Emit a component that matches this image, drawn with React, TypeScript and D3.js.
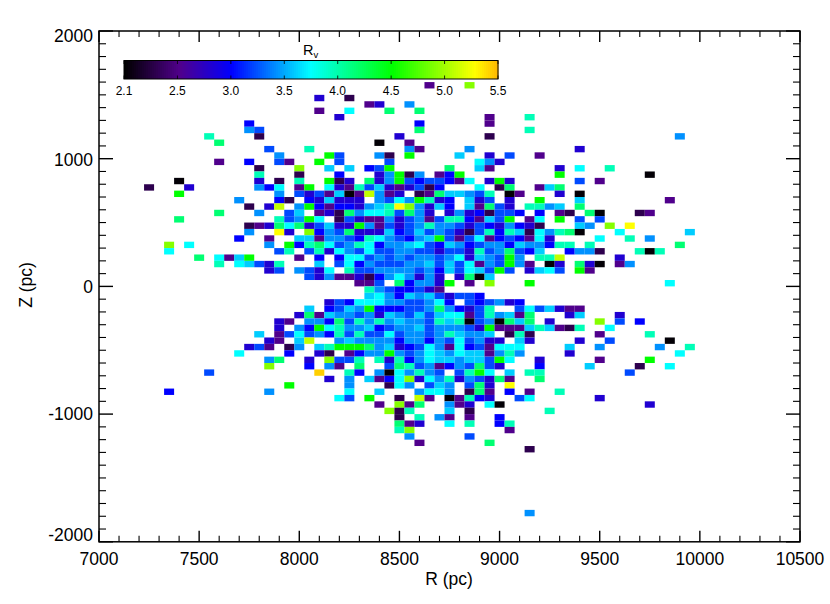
import React from "react";
import * as d3 from "d3";

// Rv level of each letter code used in the rows below
const rvCodes: Record<string, number> = {
  k: 2.12, d: 2.38, p: 2.6, v: 2.88, b: 3.07, B: 3.28, a: 3.48, s: 3.65, c: 3.79,
  t: 4.0, m: 4.2, g: 4.53, l: 4.92, h: 5.1, y: 5.28, o: 5.42,
};

// Z top edge (in 50 pc steps) -> runs of "R index (50 pc steps from 7000) + Rv codes"
const rowsNorth: [number, string][] = [
  [32, "33p 37l"],
  [30, "22v 25d"],
  [29, "27pv 31a"],
  [28, "22p 25c 29m 32m"],
  [27, "24v 39p 43t"],
  [26, "15b 32b 39p"],
  [25, "15aB 32m 43t"],
  [24, "11t 16d 30v 39d 58a"],
  [23, "12m 28k 31p"],
  [22, "17B 21t 31ap 37a 48v"],
  [21, "18a 23gB 28ad 31g 36s 39v 41B 44p"],
  [20, "12p 15b 18Bp 22g 24B 29B 38cav"],
  [19, "16d 20l 23s 25s 27bB 29g 35m 38sp 46v 48c 51t"],
  [18, "16t 20d 24b 28vagda 34pbg 46g 55k"],
  [17, "8k 16v 18d 20t 23gdv 27mvagBbBBbpc 39vgv 48B 50p"],
  [16, "5d 9v 16abc 20pg 23cvptBsvpvBdb 38c 40dm 44psm"],
  [15, "8g 18a 20BvBpskphapv 32dpmssaBt 41kp 46v 48k"],
  [14, "14a 18bd 21bvsvvv 28aBcagtvb 37svB 41v 44g 48s 57p"],
  [13, "15d 17vh 20agbpbbvastylavsb 37spmBv 43ttas 48m"],
  [12, "12m 16a 19Bs 22pvdmacctBmav 35vavbdBBb 44b 46pd 49mk 54dp"],
  [11, "8m 18tBagc 24dBvppavBapBttbpsBg 43pc 46g 48B 50B"],
  [10, "15dpvmcmvBsvvgapBvBataaBvBbvabvd 48sa 51l 53y"],
  [9, "15a 18yv 21lbaBmvvvsbBsBaBvdBtbtsdcatmk 52c 59s"],
  [8, "14b 17p 20sspaaBbtcaBbasgBpBcpbBbpcv 50c 53t 55a"],
  [7, "7l 9c 17a 19gbtmcBatcbaascBbsabBaabsaabtt 49t 58m"],
  [6, "7c 18Bt 21BtvcaBcBBaaBBvBBvtBamBbs 47baad 54tkt"],
  [5, "10m 12cpsg 20p 22b 24bccBaBaBaaBacvsaBga 44tth 52v"],
  [4, "12t 14csBvt 22s 24BcbaBBBaasBsBcpaBgap 45kv 48mvk 52pa"],
  [3, "17vB 20aBvc 25tBBaaaaBabsBcsBgB 43vscB 48gp"],
  [2, "21Bvappvdbacavav 36vmks"],
  [1, "26ppB 30mbaavg 37p 39l 43g 57c"],
];

const rowsSouth: [number, string][] = [
  [0, "27taBbbBvp"],
  [-1, "27scabsasBvBBb"],
  [-2, "23vBbcccaaBBacb 37BbBavb"],
  [-3, "21s 23bBsagbbbBBamabvBt 42BcBsvpp"],
  [-4, "20vmpsaaBavsaBsBsccpBtaspm 47vs 52v"],
  [-5, "18vp 21aabmBtatasaaBtstkBakmsm 45v 50l 52B 54b"],
  [-6, "18v 20abgctaasbBaasBaaaBvgpppstspdt 51c"],
  [-7, "16s 18pBcBabtBtBBcBaaBatsaas 41dtd 50p 55t"],
  [-8, "17vp 20sh 24asaaaabaabaBcBavv 42sv 48v 51B 57k"],
  [-9, "15vBp 19da 22stgggmasvbBcapcbBpccc 47s 50a 56a 59t"],
  [-10, "14c 19b 22vd 25pbaagaBacsacsspata 47v 58c"],
  [-11, "17am 21v 23lBBt 28tvtbacssassBgc 44v 50p 55g"],
  [-12, "17l 21b 23ap 26m 29BmtBapbaBmBv 44b 49s 54d 57c"],
  [-13, "11B 22o 25tb 28akcataB 36Btgc 41s 43tt 53B"],
  [-14, "23v 25a 27spbclvcatvaBvmp 44m"],
  [-15, "19g 25a 29dca 33Bsa 37Bmv 41y"],
  [-16, "7b 17a 25c 28s 32acca 37dmp 41b 43p 46t"],
  [-17, "24cB 27g 30d 32hp 35kptbv 42Bc 50v"],
  [-18, "28p 30lpm 35apv 39ck 55v"],
  [-19, "29ldt 35s 37d 45t"],
  [-20, "30d 32t 34ap 37p 40b"],
  [-21, "30mpv 35c 37t 40bt"],
  [-22, "30tl 41p"],
  [-23, "31a 37B"],
  [-24, "32p 39m"],
  [-25, "43d"],
  [-35, "43a"],
];

const xMajorTicks = [7000, 7500, 8000, 8500, 9000, 9500, 10000, 10500];
const yMajorTicks = [2000, 1000, 0, -1000, -2000];
const barLabels = ["2.1", "2.5", "3.0", "3.5", "4.0", "4.5", "5.0", "5.5"];
const rvStops = [2.1, 2.6, 3.07, 3.79, 4.53, 5.28, 5.5];
const rvColors = ["#000000", "#50008c", "#0000ff", "#00ffff", "#00ff00", "#ffff00", "#ffb400"];

const BIN = 50;
const x = d3.scaleLinear().domain([7000, 10500]).range([99, 800]);
const y = d3.scaleLinear().domain([-2000, 2000]).range([541.8, 31]);
const yLabel = d3.scaleLinear().domain([-2000, -1000, 0, 1000, 2000]).range([541, 419.5, 292.5, 166, 41.5]);
const color = d3.scaleLinear<string>().domain(rvStops).range(rvColors).clamp(true);
const bar = d3.scaleLinear().domain([2.1, 5.5]).range([124, 498]);

type Cell = { r: number; z: number; rv: number };
const cells: Cell[] = [...rowsNorth, ...rowsSouth].flatMap(([m, s]) =>
  s.split(" ").flatMap((tok) => {
    const match = tok.match(/^(-?\d+)([a-zA-Z]+)$/);
    if (!match) return [];
    const n0 = +match[1];
    return match[2].split("").map((c, i) => ({ r: 7000 + (n0 + i) * BIN, z: m * BIN, rv: rvCodes[c] }));
  })
);

const font = "'Liberation Sans', Arial, sans-serif";

export default function App() {
  const xMinor = d3.range(7000, 10501, 100);
  const yMinor = d3.range(-2000, 2001, 100);
  const barSteps = d3.range(2.1, 5.5, 3.4 / 187);
  const barTicks = barLabels.map((_, i) => 2.1 + (i * 3.4) / 7);
  const [x0, x1] = x.range();
  const [y0, y1] = y.range();
  return (
    <svg width={830} height={604} style={{ position: "absolute", left: 0, top: 0, display: "block", background: "#fff" }} fontFamily={font}>
      <g>
        {cells.map((c, i) => (
          <rect
            key={i}
            x={x(c.r - BIN / 2)}
            width={x(c.r + BIN / 2) - x(c.r - BIN / 2)}
            y={y(c.z)}
            height={y(c.z - BIN) - y(c.z)}
            fill={color(c.rv)}
          />
        ))}
      </g>
      <rect x={x0} y={y1} width={x1 - x0} height={y0 - y1} fill="none" stroke="#000" strokeWidth={1.5} />
      {xMinor.map((v) => {
        const major = v % 500 === 0;
        const len = major ? 11 : 6;
        return (
          <g key={v} stroke="#000" strokeWidth={major ? 1.4 : 1.1}>
            <line x1={x(v)} x2={x(v)} y1={y0} y2={y0 - len} />
            <line x1={x(v)} x2={x(v)} y1={y1} y2={y1 + len} />
          </g>
        );
      })}
      {yMinor.map((v) => {
        const major = v % 1000 === 0;
        const len = major ? 14 : 7;
        return (
          <g key={v} stroke="#000" strokeWidth={major ? 1.4 : 1.1}>
            <line x1={x0} x2={x0 + len} y1={y(v)} y2={y(v)} />
            <line x1={x1} x2={x1 - len} y1={y(v)} y2={y(v)} />
          </g>
        );
      })}
      {xMajorTicks.map((v) => (
        <text key={v} x={x(v)} y={564.5} textAnchor="middle" fontSize={17.5}>{v}</text>
      ))}
      {yMajorTicks.map((v) => (
        <text key={v} x={93} y={yLabel(v)} textAnchor="end" fontSize={17.5}>{v}</text>
      ))}
      <text x={449} y={585} textAnchor="middle" fontSize={17.5}>R (pc)</text>
      <text transform={`translate(32,285) rotate(-90)`} textAnchor="middle" fontSize={17.5}>Z (pc)</text>

      {barSteps.map((v, i) => (
        <rect key={i} x={bar(v)} y={60.5} width={bar(3.4 / 187 + 2.1) - bar(2.1) + 0.5} height={18.5} fill={color(v)} />
      ))}
      <rect x={124} y={60.5} width={374} height={18.5} fill="none" stroke="#000" strokeWidth={1} />
      {barTicks.map((v, i) => (
        <g key={i}>
          <line x1={bar(v)} x2={bar(v)} y1={60.5} y2={64} stroke="#000" strokeWidth={0.8} />
          <line x1={bar(v)} x2={bar(v)} y1={75.5} y2={79} stroke="#000" strokeWidth={0.8} />
          <text x={bar(v)} y={94.5} textAnchor="middle" fontSize={12}>{barLabels[i]}</text>
        </g>
      ))}
      <text x={303} y={54.5} fontSize={14.5}>R<tspan fontSize={9.5} dy={3}>v</tspan></text>
    </svg>
  );
}
